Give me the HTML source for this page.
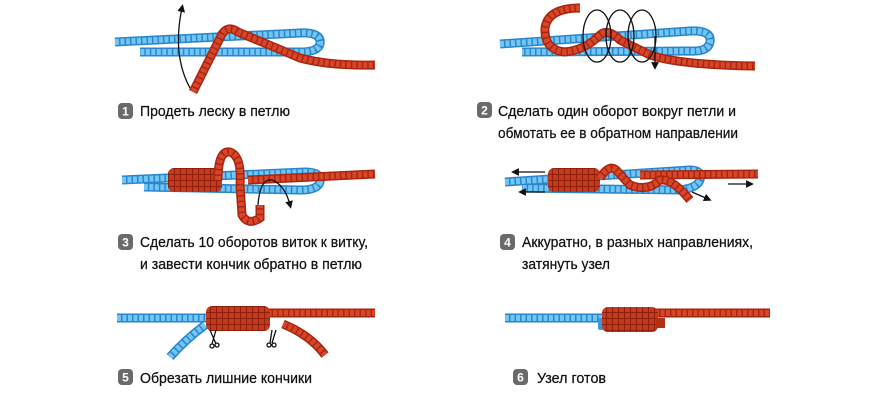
<!DOCTYPE html>
<html><head><meta charset="utf-8"><style>
html,body{margin:0;padding:0;background:#fff;width:870px;height:400px;overflow:hidden}
svg{display:block}
text{font-family:"Liberation Sans",sans-serif;font-size:15px;fill:#111;stroke:#111;stroke-width:0.25}
.b{fill:#6a6a6a}
.n{fill:#fff;stroke:none;font-size:12px;font-weight:bold;text-anchor:middle}
.bo{fill:none;stroke:#2a86cc;stroke-width:9;stroke-linecap:butt}
.bi{fill:none;stroke:#72c6f4;stroke-width:6;stroke-dasharray:4 1.5}
.ro{fill:none;stroke:#a8260f;stroke-width:9}
.ri{fill:none;stroke:#d8462a;stroke-width:6;stroke-dasharray:4 1.5}
.ar{fill:none;stroke:#111;stroke-width:1.3}
</style></head><body>
<svg width="870" height="400" viewBox="0 0 870 400">
<defs>
<marker id="ah" markerWidth="6" markerHeight="6" refX="3" refY="3" orient="auto"><path d="M0,0 L6,3 L0,6z" fill="#111"/></marker>
<pattern id="cp" width="6" height="6" patternUnits="userSpaceOnUse"><rect width="6" height="6" fill="#c43a1c"/><rect width="6" height="1" fill="#8f1f0a"/><rect width="1" height="6" fill="#8f1f0a"/></pattern>
</defs>

<!-- Panel 1 -->
<path class="bo" d="M115,42 L300,33 Q322,32 320,44 Q318,52 300,52 L140,52"/>
<path class="bi" d="M115,42 L300,33 Q322,32 320,44 Q318,52 300,52 L140,52"/>
<path class="ro" d="M193,92 L222,34 Q228,25 238,32 Q252,38 262,42 L300,58 Q330,66 375,65"/>
<path class="ri" d="M193,92 L222,34 Q228,25 238,32 Q252,38 262,42 L300,58 Q330,66 375,65"/>
<path class="ar" d="M190,88 Q172,55 182,8" marker-end="url(#ah)"/>
<rect class="b" x="118" y="103" width="15" height="16" rx="4"/><text class="n" x="125.5" y="115.5">1</text>
<text x="140" y="116" textLength="150" lengthAdjust="spacingAndGlyphs">Продеть леску в петлю</text>

<!-- Panel 2 -->
<path class="bo" d="M500,44 L690,31 Q712,30 710,42 Q708,52 690,51 L522,52"/>
<path class="bi" d="M500,44 L690,31 Q712,30 710,42 Q708,52 690,51 L522,52"/>
<path class="ro" d="M580,8 Q548,8 545,28 Q544,50 565,52 Q585,50 600,35 Q608,28 620,40 L650,55 Q680,65 755,66"/>
<path class="ri" d="M580,8 Q548,8 545,28 Q544,50 565,52 Q585,50 600,35 Q608,28 620,40 L650,55 Q680,65 755,66"/>
<g class="ar"><ellipse cx="597" cy="36" rx="14" ry="26"/><ellipse cx="620" cy="36" rx="14" ry="26"/><ellipse cx="642" cy="36" rx="14" ry="26"/><path d="M655,36 L655,66" marker-end="url(#ah)"/></g>
<rect class="b" x="477" y="102" width="15" height="16" rx="4"/><text class="n" x="484.5" y="114.5">2</text>
<text x="498" y="116" textLength="238" lengthAdjust="spacingAndGlyphs">Сделать один оборот вокруг петли и</text>
<text x="498" y="138" textLength="240" lengthAdjust="spacingAndGlyphs">обмотать ее в обратном направлении</text>

<!-- Panel 3 -->
<path class="bo" d="M122,180 L305,172 Q322,172 320,182 Q318,190 300,190 L144,187"/>
<path class="bi" d="M122,180 L305,172 Q322,172 320,182 Q318,190 300,190 L144,187"/>
<path class="ro" d="M248,180 L375,174"/>
<path class="ri" d="M248,180 L375,174"/>
<rect x="168" y="168" width="54" height="24" rx="6" fill="url(#cp)"/>
<path class="ro" d="M218,180 Q218,150 230,152 Q242,156 240,185 L242,215 Q248,226 260,218 L260,205"/>
<path class="ri" d="M218,180 Q218,150 230,152 Q242,156 240,185 L242,215 Q248,226 260,218 L260,205"/>
<path class="ar" d="M258,205 Q260,178 272,180 Q285,185 290,205" marker-end="url(#ah)"/>
<rect class="b" x="118" y="234" width="15" height="16" rx="4"/><text class="n" x="125.5" y="246.5">3</text>
<text x="140" y="247" textLength="228" lengthAdjust="spacingAndGlyphs">Сделать 10 оборотов виток к витку,</text>
<text x="140" y="269" textLength="222" lengthAdjust="spacingAndGlyphs">и завести кончик обратно в петлю</text>

<!-- Panel 4 -->
<path class="bo" d="M505,182 L690,170 Q703,170 700,180 Q697,188 680,190 L522,188"/>
<path class="bi" d="M505,182 L690,170 Q703,170 700,180 Q697,188 680,190 L522,188"/>
<path class="ro" d="M640,175 L758,174"/>
<path class="ri" d="M640,175 L758,174"/>
<rect x="548" y="168" width="52" height="24" rx="6" fill="url(#cp)"/>
<path class="ro" d="M600,178 Q610,162 618,172 L630,185 Q648,192 660,180 Q672,178 690,200"/>
<path class="ri" d="M600,178 Q610,162 618,172 L630,185 Q648,192 660,180 Q672,178 690,200"/>
<g class="ar"><path d="M545,172 L515,172" marker-end="url(#ah)"/><path d="M545,192 L522,192" marker-end="url(#ah)"/><path d="M728,184 L750,184" marker-end="url(#ah)"/><path d="M692,192 L708,199" marker-end="url(#ah)"/></g>
<rect class="b" x="500" y="234" width="15" height="16" rx="4"/><text class="n" x="507.5" y="246.5">4</text>
<text x="522" y="247" textLength="231" lengthAdjust="spacingAndGlyphs">Аккуратно, в разных направлениях,</text>
<text x="522" y="269" textLength="88" lengthAdjust="spacingAndGlyphs">затянуть узел</text>

<!-- Panel 5 -->
<path class="bo" d="M117,318 L212,318"/><path class="bi" d="M117,318 L212,318"/>
<path class="ro" d="M262,313 L375,313"/><path class="ri" d="M262,313 L375,313"/>
<path class="bo" d="M205,325 Q185,340 170,357"/><path class="bi" d="M205,325 Q185,340 170,357"/>
<path class="ro" d="M283,324 Q310,335 325,355"/><path class="ri" d="M283,324 Q310,335 325,355"/>
<rect x="206" y="306" width="64" height="25" rx="6" fill="url(#cp)"/>
<g class="ar"><path d="M210,330 L216,344 M216,330 L212,344"/><circle cx="212" cy="346" r="2"/><circle cx="217" cy="345" r="2"/><path d="M272,330 L270,343 M276,330 L272,343"/><circle cx="269" cy="345" r="2"/><circle cx="274" cy="345" r="2"/></g>
<rect class="b" x="118" y="369" width="15" height="16" rx="4"/><text class="n" x="125.5" y="381.5">5</text>
<text x="140" y="383" textLength="172" lengthAdjust="spacingAndGlyphs">Обрезать лишние кончики</text>

<!-- Panel 6 -->
<path class="bo" d="M505,318 L604,318"/><path class="bi" d="M505,318 L604,318"/>
<path class="ro" d="M655,313 L770,313"/><path class="ri" d="M655,313 L770,313"/>
<rect x="598" y="318" width="8" height="12" rx="2" fill="#3a9ad8"/>
<rect x="602" y="307" width="56" height="25" rx="6" fill="url(#cp)"/>
<rect x="656" y="318" width="9" height="10" fill="#b42d12"/>
<rect class="b" x="513" y="369" width="15" height="16" rx="4"/><text class="n" x="520.5" y="381.5">6</text>
<text x="537" y="383" textLength="69" lengthAdjust="spacingAndGlyphs">Узел готов</text>
</svg>
</body></html>
